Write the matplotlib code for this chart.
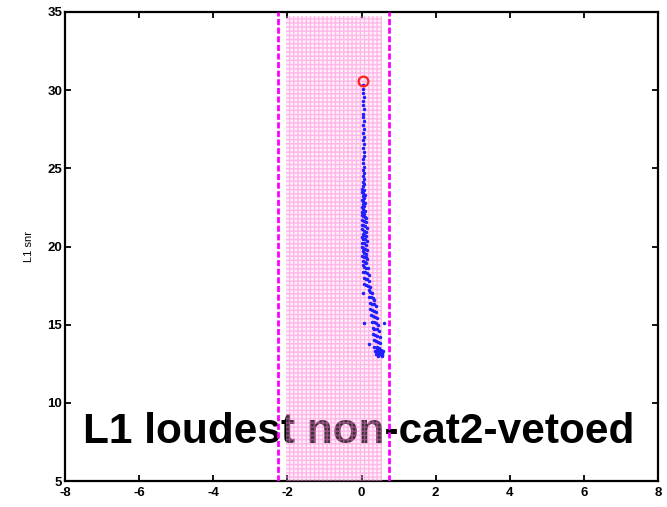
import numpy as np
import matplotlib.pyplot as plt

# loudest event (red circle)
loud_x = [0.03]
loud_y = [30.6]

# trigger trail (x offset, L1 snr)
trail_x = [
    0.05, 0.04, 0.05, 0.06, 0.04, 0.05, 0.06, 0.05, 0.04, 0.06, 0.05, 0.07, 0.05,
    0.06, 0.04, 0.07, 0.05, 0.06, 0.08, 0.05, 0.03, 0.06, 0.05, 0.07, 0.04,
    0.06, 0.04, 0.07, 0.05, 0.02, 0.08, 0.00, 0.05, 0.10, 0.03, 0.07, 0.01, 0.05,
    0.09, 0.03, 0.06, 0.00, 0.04, 0.10, 0.02, 0.07,
    0.00, 0.05, 0.10, 0.13, 0.02, 0.07, 0.12, 0.00, 0.04, 0.09, 0.14, 0.01, 0.06,
    0.11, 0.03, 0.08, 0.13, 0.00, 0.05, 0.10, 0.14, 0.02, 0.07, 0.12, 0.01, 0.05,
    0.09, 0.14, 0.03, 0.08, 0.12, 0.02, 0.06, 0.11, 0.15, 0.04, 0.09, 0.13,
    0.03, 0.08, 0.12, 0.17, 0.05, 0.10, 0.15, 0.20, 0.06, 0.11, 0.16, 0.21, 0.08,
    0.13, 0.18, 0.23, 0.05,
    0.19, 0.24, 0.29, 0.21, 0.26, 0.31, 0.35, 0.22, 0.27, 0.33, 0.38, 0.24, 0.29,
    0.34, 0.40, 0.26, 0.31, 0.37, 0.42, 0.28, 0.33, 0.39, 0.44, 0.08, 0.60,
    0.30, 0.35, 0.41, 0.46, 0.31, 0.37, 0.43, 0.49, 0.33, 0.39, 0.45, 0.51, 0.35,
    0.41, 0.47, 0.53, 0.19, 0.37, 0.43, 0.49, 0.55, 0.39, 0.45, 0.51, 0.56, 0.42,
    0.48, 0.54, 0.58, 0.44, 0.50, 0.56,
]
trail_y = [
    30.3, 30.05, 29.8, 29.55, 29.3, 29.05, 28.8, 28.5, 28.3, 28.0, 27.75, 27.5, 27.25,
    27.0, 26.8, 26.55, 26.3, 26.05, 25.8, 25.6, 25.35, 25.1, 24.9, 24.7, 24.5,
    24.3, 24.15, 24.0, 23.85, 23.7, 23.6, 23.5, 23.4, 23.3, 23.2, 23.1, 23.0, 22.9,
    22.8, 22.7, 22.6, 22.5, 22.4, 22.3, 22.2, 22.1,
    22.0, 21.95, 21.9, 21.8, 21.7, 21.6, 21.55, 21.4, 21.35, 21.3, 21.2, 21.1, 21.0,
    20.95, 20.8, 20.75, 20.7, 20.6, 20.5, 20.45, 20.35, 20.25, 20.2, 20.1, 20.0, 19.9,
    19.85, 19.8, 19.7, 19.6, 19.55, 19.4, 19.35, 19.3, 19.2, 19.1, 19.0, 18.95,
    18.8, 18.7, 18.65, 18.6, 18.4, 18.35, 18.3, 18.2, 18.0, 17.95, 17.9, 17.8, 17.6,
    17.55, 17.5, 17.4, 17.0,
    17.2, 17.1, 17.0, 16.8, 16.75, 16.7, 16.6, 16.4, 16.35, 16.3, 16.2, 16.0, 15.95,
    15.9, 15.8, 15.6, 15.55, 15.5, 15.4, 15.2, 15.15, 15.1, 15.0, 15.1, 15.1,
    14.8, 14.75, 14.7, 14.6, 14.4, 14.35, 14.3, 14.2, 14.0, 13.95, 13.9, 13.8, 13.6,
    13.55, 13.5, 13.4, 13.75, 13.3, 13.25, 13.2, 13.2, 13.1, 13.05, 13.1, 13.0, 13.45,
    13.35, 13.15, 13.3, 13.0, 13.2, 13.05,
]

# on-source window (shaded) and veto lines
window = [-2.03, 0.55]
window_top = 34.74
veto_lines = [-2.26, 0.74]

xticks = [-8, -6, -4, -2, 0, 2, 4, 6, 8]
yticks = [5, 10, 15, 20, 25, 30, 35]

plt.rcParams['font.family'] = ['Liberation Sans', 'DejaVu Sans']

fig = plt.figure(figsize=(6.67, 5.07), dpi=100)
ax = fig.add_axes([65 / 667, 1 - 481 / 507, 593 / 667, 469 / 507])

ax.text(-7.51, 7.45, 'L1 loudest non-cat2-vetoed', fontsize=30.5, fontweight='bold',
        ha='left', va='baseline', zorder=2)

# pink hatched window, drawn over the text
ax.fill_between(window, 5, window_top, facecolor=(1.0, 0.78, 0.93, 0.25),
                edgecolor=(1.0, 0.45, 0.82, 0.45), hatch='++++', linewidth=0, zorder=3)
for xv in veto_lines:
    ax.axvline(xv, color='#ff00ff', lw=2, linestyle=(0, (2.2, 0.9)), zorder=4)

ax.plot(trail_x, trail_y, '.', color='#2020ff', markersize=3, zorder=5)
ax.plot(loud_x, loud_y, 'o', mfc='none', mec='#ff2020', mew=1.6, markersize=7, zorder=6)

ax.set_xlim(-8, 8)
ax.set_ylim(5, 35)
ax.set_xticks(xticks)
ax.set_yticks(yticks)
ax.set_xticklabels([str(t) for t in xticks], fontweight='bold', fontsize=9.5)
ax.set_yticklabels([str(t) for t in yticks], fontweight='bold', fontsize=9.5)
ax.tick_params(direction='in', top=True, right=True, length=4, width=1.3)
ax.tick_params(axis='x', pad=4)
ax.tick_params(axis='y', pad=2)
for sp in ax.spines.values():
    sp.set_linewidth(1.6)
ax.set_ylabel('L1 snr', fontsize=8)
ax.yaxis.set_label_coords(-0.053, 0.5)

fig.savefig('out.png', dpi=100)
